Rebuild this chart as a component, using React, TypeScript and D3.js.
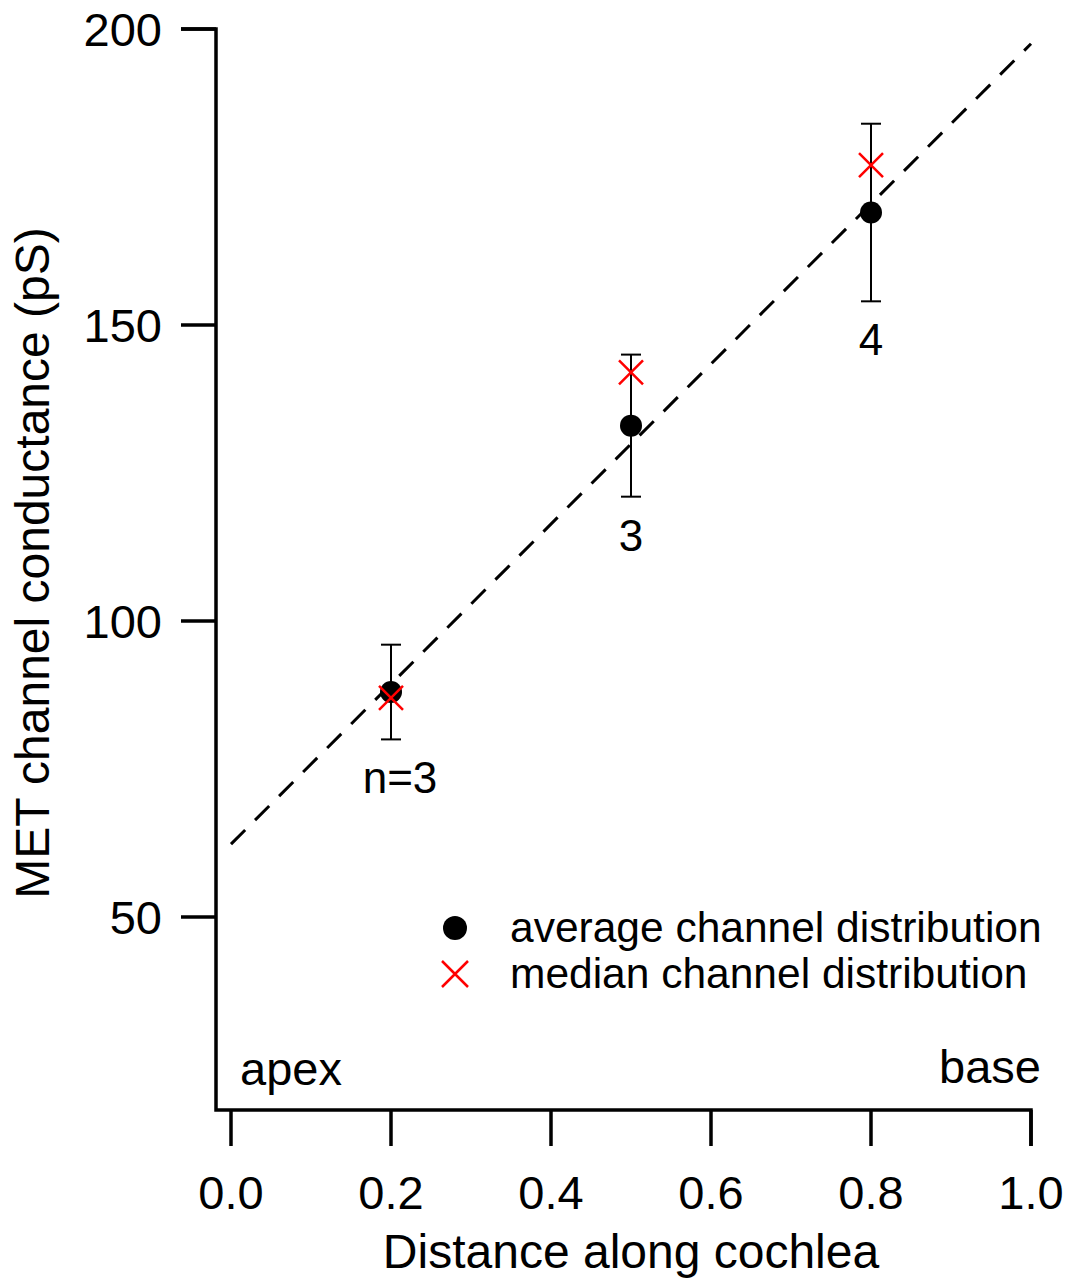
import React from "react";
import * as d3 from "d3";

const positions = [0.2, 0.5, 0.8];
const means = [88, 133, 169];
const errHigh = [96, 145, 184];
const errLow = [80, 121, 154];
const medians = [87, 142, 177];
const nLabels = ["n=3", "3", "4"];
const xTicks = [0, 0.2, 0.4, 0.6, 0.8, 1.0];
const yTicks = [50, 100, 150, 200];
const fitX = [0, 1];
const fitY = [62.3, 197.5];

const W = 1071;
const H = 1281;
const font = "'Liberation Sans', Arial, sans-serif";

export default function App() {
  const x = d3.scaleLinear().domain([0, 1]).range([231, 1031]);
  const y = d3.scaleLinear().domain([50, 200]).range([917, 29]);
  const axisX = 216;
  const axisY = 1110;
  const line = d3
    .line<number>()
    .x((_, i) => x(fitX[i]))
    .y((d) => y(d));

  const xs = 12;
  return (
    <svg
      width={W}
      height={H}
      style={{ position: "absolute", left: 0, top: 0, background: "#fff" }}
    >
      <path
        d={line(fitY) || ""}
        fill="none"
        stroke="#000"
        strokeWidth={3}
        strokeDasharray="20 14"
      />
      <path
        d={`M${axisX - 35},${y(200)}H${axisX}V${axisY}H${x(1)}V${axisY + 36}`}
        fill="none"
        stroke="#000"
        strokeWidth={3.5}
      />
      {yTicks.map((t) => (
        <g key={t}>
          <line x1={axisX - 35} x2={axisX} y1={y(t)} y2={y(t)} stroke="#000" strokeWidth={3.5} />
          <text
            x={axisX - 54}
            y={y(t) + 17}
            textAnchor="end"
            fontFamily={font}
            fontSize={47}
          >
            {t}
          </text>
        </g>
      ))}
      {xTicks.map((t) => (
        <g key={t}>
          <line x1={x(t)} x2={x(t)} y1={axisY} y2={axisY + 36} stroke="#000" strokeWidth={3.5} />
          <text
            x={x(t)}
            y={axisY + 99}
            textAnchor="middle"
            fontFamily={font}
            fontSize={47}
          >
            {t.toFixed(1)}
          </text>
        </g>
      ))}
      <text x={631} y={1268} textAnchor="middle" fontFamily={font} fontSize={48}>
        Distance along cochlea
      </text>
      <text
        transform={`translate(49,563) rotate(-90)`}
        textAnchor="middle"
        fontFamily={font}
        fontSize={48}
      >
        MET channel conductance (pS)
      </text>
      <text x={240} y={1085} fontFamily={font} fontSize={47}>
        apex
      </text>
      <text x={1041} y={1083} textAnchor="end" fontFamily={font} fontSize={47}>
        base
      </text>
      {positions.map((p, i) => {
        const cx = x(p);
        return (
          <g key={p}>
            <line x1={cx} x2={cx} y1={y(errHigh[i])} y2={y(errLow[i])} stroke="#000" strokeWidth={2} />
            <line x1={cx - 10} x2={cx + 10} y1={y(errHigh[i])} y2={y(errHigh[i])} stroke="#000" strokeWidth={2} />
            <line x1={cx - 10} x2={cx + 10} y1={y(errLow[i])} y2={y(errLow[i])} stroke="#000" strokeWidth={2} />
            <circle cx={cx} cy={y(means[i])} r={11} fill="#000" />
            <path
              d={`M${cx - xs},${y(medians[i]) - xs}L${cx + xs},${y(medians[i]) + xs}M${cx - xs},${y(medians[i]) + xs}L${cx + xs},${y(medians[i]) - xs}`}
              stroke="#ff0000"
              strokeWidth={2.5}
              fill="none"
            />
            <text
              x={cx + (i === 0 ? 9 : 0)}
              y={y(errLow[i]) + 54}
              textAnchor="middle"
              fontFamily={font}
              fontSize={44}
            >
              {nLabels[i]}
            </text>
          </g>
        );
      })}
      <circle cx={455} cy={928} r={12} fill="#000" />
      <text x={510} y={942} fontFamily={font} fontSize={42.5}>
        average channel distribution
      </text>
      <path
        d={`M${455 - 13},${974 - 13}L${455 + 13},${974 + 13}M${455 - 13},${974 + 13}L${455 + 13},${974 - 13}`}
        stroke="#ff0000"
        strokeWidth={2.5}
        fill="none"
      />
      <text x={510} y={988} fontFamily={font} fontSize={42.5}>
        median channel distribution
      </text>
    </svg>
  );
}
